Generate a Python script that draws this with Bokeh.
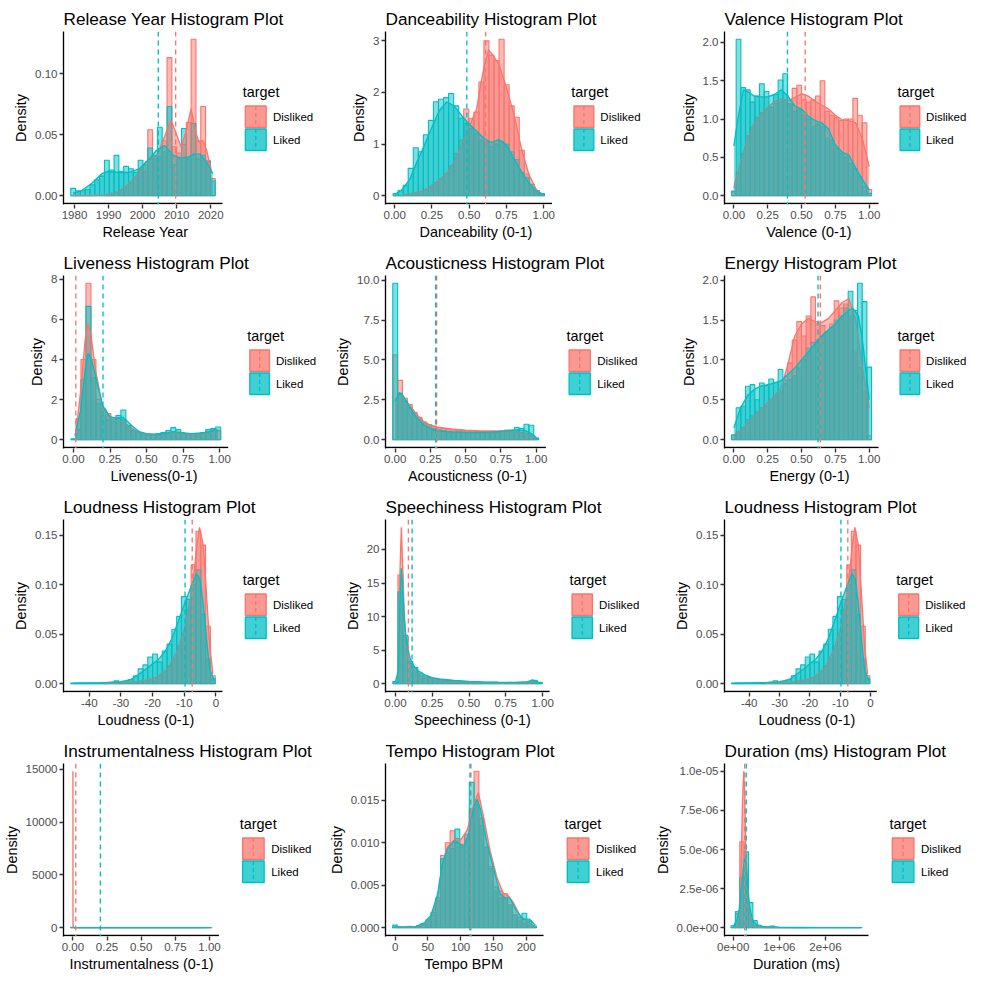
from bokeh.plotting import figure
from bokeh.layouts import gridplot
from bokeh.models import Span, FixedTicker, Range1d, Title
from bokeh.core.properties import value
from bokeh.embed import file_html
from bokeh.resources import INLINE

RED = "#F8766D"
TEAL = "#00BFC4"
FONT = "Liberation Sans"
groups = ["Disliked", "Liked"]

# ---------------- data ----------------
# 1 Release year
release_lo, release_hi = 1979.6, 2020.6
release_hist_disliked = [0, 0, 0, 0, 0, 0, 0, 0.001, 0.002, 0.003, 0.005, 0.007, 0.010, 0.014, 0.022, 0.020, 0.054, 0.030, 0.032, 0.045, 0.113, 0.040, 0.035, 0.042, 0.060, 0.128, 0.045, 0.073, 0.029, 0.014]
release_hist_liked = [0.006, 0.004, 0.004, 0.005, 0.009, 0.013, 0.016, 0.029, 0.021, 0.033, 0.020, 0.024, 0.022, 0.019, 0.029, 0.025, 0.039, 0.033, 0.056, 0.036, 0.073, 0.025, 0.030, 0.055, 0.030, 0.059, 0.030, 0.033, 0.028, 0.012]
release_dx_disliked = [1979.6, 1985, 1988.6, 1992.3, 1996, 1998.7, 2001, 2004.2, 2006, 2008.3, 2009.7, 2011.3, 2012.8, 2014.2, 2015.6, 2016.5, 2017.7, 2018.8, 2020.2]
release_dy_disliked = [0.0, 0.0, 0.0005, 0.002, 0.010, 0.018, 0.028, 0.033, 0.045, 0.062, 0.052, 0.040, 0.053, 0.071, 0.052, 0.044, 0.045, 0.037, 0.020]
release_dx_liked = [1979.6, 1982, 1985, 1988, 1990, 1993, 1996, 1999, 2002, 2004, 2006.5, 2009, 2011, 2013, 2015, 2017, 2019, 2020.6]
release_dy_liked = [0.002, 0.004, 0.010, 0.018, 0.020, 0.019, 0.019, 0.022, 0.030, 0.037, 0.041, 0.033, 0.031, 0.031, 0.034, 0.034, 0.026, 0.018]
release_mean = [2009.7, 2004.6]

# 2 Danceability
dance_lo, dance_hi = 0.006, 0.988
dance_hist_disliked = [0.0, 0.0, 0.02, 0.03, 0.05, 0.08, 0.12, 0.16, 0.25, 0.32, 0.42, 0.58, 0.82, 1.08, 1.68, 1.50, 1.62, 2.20, 3.00, 2.72, 2.62, 3.03, 2.15, 1.74, 1.52, 0.88, 0.42, 0.15, 0.05, 0.02]
dance_hist_liked = [0.04, 0.10, 0.20, 0.53, 0.93, 0.85, 1.18, 1.46, 1.82, 1.87, 1.90, 1.98, 1.74, 1.50, 1.40, 1.30, 1.20, 1.08, 1.05, 0.95, 1.00, 1.05, 1.00, 0.85, 0.70, 0.45, 0.35, 0.22, 0.10, 0.04]
dance_dx_disliked = [0.05, 0.1, 0.2, 0.3, 0.35, 0.4, 0.45, 0.5, 0.55, 0.58, 0.6, 0.63, 0.66, 0.7, 0.75, 0.8, 0.85, 0.9, 0.95, 0.99]
dance_dy_disliked = [0.0, 0.03, 0.1, 0.31, 0.44, 0.66, 0.98, 1.33, 1.68, 2.2, 2.5, 2.82, 2.72, 2.54, 2.09, 1.58, 0.92, 0.41, 0.12, 0.03]
dance_dx_liked = [0.0, 0.05, 0.1, 0.15, 0.2, 0.25, 0.3, 0.35, 0.4, 0.45, 0.5, 0.55, 0.6, 0.65, 0.7, 0.75, 0.8, 0.85, 0.9, 0.95, 0.99]
dance_dy_liked = [0.02, 0.12, 0.31, 0.66, 0.98, 1.33, 1.65, 1.82, 1.73, 1.55, 1.39, 1.25, 1.11, 1.03, 1.09, 0.98, 0.72, 0.47, 0.25, 0.09, 0.03]
dance_mean = [0.61, 0.484]

# 3 Valence
valence_lo, valence_hi = 0.0, 1.0
valence_hist_disliked = [0.05, 0.30, 0.55, 0.78, 0.90, 1.02, 1.08, 1.12, 1.16, 1.20, 1.22, 1.25, 1.20, 1.40, 1.44, 1.25, 1.22, 1.25, 1.30, 1.50, 1.10, 1.05, 1.02, 0.98, 1.00, 1.00, 1.27, 1.05, 0.95, 0.08]
valence_hist_liked = [0.06, 2.04, 1.41, 1.38, 1.22, 1.30, 1.46, 1.36, 1.15, 1.32, 1.51, 1.59, 1.20, 1.10, 1.12, 1.05, 1.00, 0.90, 0.93, 0.90, 0.75, 0.72, 0.62, 0.55, 0.50, 0.42, 0.35, 0.25, 0.12, 0.03]
valence_dx_disliked = [0.0, 0.05, 0.1, 0.15, 0.2, 0.25, 0.3, 0.35, 0.4, 0.45, 0.5, 0.55, 0.6, 0.65, 0.7, 0.75, 0.8, 0.85, 0.9, 0.95, 1.0]
valence_dy_disliked = [0.10, 0.44, 0.74, 0.94, 1.06, 1.15, 1.23, 1.26, 1.24, 1.28, 1.33, 1.30, 1.23, 1.18, 1.13, 1.05, 0.99, 0.98, 0.95, 0.74, 0.38]
valence_dx_liked = [0.0, 0.03, 0.07, 0.1, 0.15, 0.2, 0.25, 0.3, 0.35, 0.4, 0.45, 0.5, 0.55, 0.6, 0.65, 0.7, 0.75, 0.8, 0.85, 0.9, 0.95, 1.0]
valence_dy_liked = [0.65, 1.0, 1.38, 1.36, 1.30, 1.29, 1.29, 1.32, 1.38, 1.30, 1.17, 1.13, 1.04, 0.98, 0.95, 0.87, 0.66, 0.57, 0.53, 0.36, 0.21, 0.08]
valence_mean = [0.527, 0.396]

# 4 Liveness
live_lo, live_hi = 0.0, 0.99
live_hist_disliked = [0.0, 1.05, 4.00, 7.80, 4.00, 2.02, 1.53, 1.30, 1.10, 1.10, 1.00, 0.70, 0.45, 0.35, 0.30, 0.28, 0.25, 0.25, 0.30, 0.35, 0.40, 0.35, 0.30, 0.25, 0.28, 0.30, 0.30, 0.40, 0.50, 0.45]
live_hist_liked = [0.05, 0.50, 3.00, 6.65, 3.10, 1.80, 1.20, 1.00, 1.00, 1.20, 1.48, 0.70, 0.45, 0.35, 0.30, 0.25, 0.25, 0.30, 0.35, 0.45, 0.60, 0.50, 0.30, 0.30, 0.30, 0.30, 0.35, 0.50, 0.55, 0.63]
live_dx_disliked = [0.02, 0.05, 0.08, 0.1, 0.12, 0.15, 0.2, 0.25, 0.3, 0.35, 0.4, 0.45, 0.5, 0.6, 0.7, 0.8, 0.9, 0.99]
live_dy_disliked = [0.5, 2.5, 5.0, 5.8, 5.2, 3.5, 1.6, 1.05, 0.95, 0.85, 0.55, 0.35, 0.28, 0.25, 0.32, 0.25, 0.30, 0.45]
live_dx_liked = [0.01, 0.05, 0.08, 0.1, 0.12, 0.15, 0.2, 0.25, 0.3, 0.34, 0.4, 0.45, 0.5, 0.6, 0.68, 0.75, 0.8, 0.9, 0.99]
live_dy_liked = [0.2, 1.5, 3.5, 4.3, 4.1, 3.2, 1.7, 1.15, 1.05, 1.12, 0.70, 0.40, 0.30, 0.25, 0.40, 0.35, 0.30, 0.35, 0.50]
live_mean = [0.016, 0.202]

# 5 Acousticness
acou_lo, acou_hi = 0.0, 1.0
acou_hist_disliked = [5.32, 3.72, 2.60, 2.20, 1.70, 1.40, 1.10, 0.95, 0.85, 0.75, 0.70, 0.65, 0.62, 0.60, 0.58, 0.55, 0.55, 0.52, 0.50, 0.50, 0.52, 0.50, 0.55, 0.60, 0.55, 0.50, 0.45, 0.40, 0.30, 0.10]
acou_hist_liked = [9.80, 2.90, 2.40, 2.00, 1.60, 1.30, 1.00, 0.85, 0.70, 0.60, 0.55, 0.50, 0.50, 0.50, 0.48, 0.45, 0.45, 0.45, 0.45, 0.45, 0.48, 0.50, 0.50, 0.55, 0.60, 0.76, 0.70, 0.97, 0.90, 0.10]
acou_dx_disliked = [0.0, 0.03, 0.06, 0.1, 0.15, 0.2, 0.25, 0.3, 0.4, 0.5, 0.6, 0.7, 0.8, 0.9, 0.95, 1.0]
acou_dy_disliked = [2.5, 2.85, 2.6, 2.2, 1.6, 1.15, 0.9, 0.78, 0.68, 0.60, 0.55, 0.55, 0.55, 0.42, 0.30, 0.15]
acou_dx_liked = [0.0, 0.03, 0.06, 0.1, 0.15, 0.2, 0.25, 0.3, 0.4, 0.5, 0.6, 0.7, 0.8, 0.87, 0.93, 0.97, 1.0]
acou_dy_liked = [2.4, 2.95, 2.7, 2.1, 1.4, 0.95, 0.68, 0.55, 0.48, 0.45, 0.45, 0.48, 0.55, 0.62, 0.55, 0.35, 0.15]
acou_mean = [0.294, 0.287]

# 6 Energy
energy_lo, energy_hi = 0.0, 1.0
energy_hist_disliked = [0.05, 0.10, 0.15, 0.25, 0.30, 0.35, 0.40, 0.42, 0.50, 0.55, 0.60, 0.75, 0.96, 1.25, 1.48, 1.30, 1.55, 1.79, 1.45, 1.43, 1.35, 1.45, 1.74, 1.65, 1.70, 1.55, 1.10, 0.90, 0.60, 0.05]
energy_hist_liked = [0.06, 0.40, 0.42, 0.67, 0.69, 0.50, 0.71, 0.68, 0.76, 0.72, 0.88, 0.70, 0.75, 0.80, 0.90, 1.00, 1.15, 1.22, 1.25, 1.30, 1.35, 1.40, 1.50, 1.55, 1.65, 1.86, 1.62, 1.96, 1.73, 0.91]
energy_dx_disliked = [0.0, 0.1, 0.2, 0.3, 0.35, 0.4, 0.45, 0.5, 0.55, 0.6, 0.65, 0.7, 0.75, 0.8, 0.85, 0.9, 0.95, 1.0]
energy_dy_disliked = [0.05, 0.20, 0.38, 0.55, 0.65, 0.95, 1.30, 1.45, 1.52, 1.48, 1.47, 1.52, 1.62, 1.72, 1.77, 1.50, 0.90, 0.40]
energy_dx_liked = [0.0, 0.05, 0.1, 0.15, 0.2, 0.25, 0.3, 0.35, 0.4, 0.45, 0.5, 0.55, 0.6, 0.65, 0.7, 0.75, 0.8, 0.85, 0.88, 0.92, 0.95, 0.98, 1.0]
energy_dy_liked = [0.15, 0.40, 0.55, 0.63, 0.67, 0.69, 0.71, 0.74, 0.82, 0.90, 1.00, 1.10, 1.20, 1.30, 1.38, 1.45, 1.55, 1.62, 1.65, 1.55, 1.25, 0.80, 0.50]
energy_mean = [0.639, 0.622]

# 7/9 Loudness
loud_lo, loud_hi = -45.1, -1.0
loud_hist_disliked = [0, 0, 0, 0, 0, 0, 0, 0, 0, 0.0005, 0.0005, 0.0008, 0.001, 0.0015, 0.002, 0.003, 0.004, 0.006, 0.008, 0.012, 0.018, 0.025, 0.038, 0.050, 0.075, 0.120, 0.154, 0.140, 0.058, 0.008]
loud_hist_liked = [0.0006, 0.0006, 0.0006, 0.0006, 0.0006, 0.0006, 0.001, 0.001, 0.0015, 0.003, 0.0015, 0.002, 0.004, 0.008, 0.015, 0.019, 0.027, 0.030, 0.022, 0.033, 0.040, 0.055, 0.068, 0.088, 0.085, 0.100, 0.115, 0.070, 0.025, 0.005]
loud_dx_disliked = [-35, -30, -25, -20, -18, -15, -12, -10, -8, -7, -6, -5.2, -4, -3, -2, -1]
loud_dy_disliked = [0.0, 0.001, 0.002, 0.005, 0.008, 0.016, 0.035, 0.055, 0.088, 0.110, 0.140, 0.158, 0.140, 0.090, 0.040, 0.010]
loud_dx_liked = [-45.1, -35, -30, -27, -25, -22, -20, -18, -16, -14, -12, -10, -8, -6.1, -5, -4, -3, -2, -0.5]
loud_dy_liked = [0.0005, 0.001, 0.002, 0.004, 0.008, 0.015, 0.020, 0.025, 0.033, 0.045, 0.062, 0.080, 0.097, 0.111, 0.105, 0.080, 0.045, 0.015, 0.003]
loud_mean = [-7.5, -9.76]

# 8 Speechiness
speech_lo, speech_hi = 0.0, 0.98
speech_hist_disliked = [0.3, 16.2, 6.5, 3.0, 1.8, 1.2, 0.9, 0.7, 0.5, 0.4, 0.35, 0.3, 0.25, 0.2, 0.2, 0.15, 0.15, 0.12, 0.1, 0.1, 0.1, 0.08, 0.08, 0.08, 0.08, 0.1, 0.1, 0.15, 0.3, 0.1]
speech_hist_liked = [0.3, 13.7, 7.2, 3.3, 2.4, 1.6, 1.2, 0.9, 0.7, 0.6, 0.5, 0.45, 0.4, 0.35, 0.3, 0.25, 0.25, 0.22, 0.2, 0.2, 0.2, 0.18, 0.15, 0.15, 0.15, 0.15, 0.15, 0.3, 0.5, 0.2]
speech_dx_disliked = [0.02, 0.025, 0.03, 0.04, 0.05, 0.06, 0.07, 0.08, 0.1, 0.12, 0.15, 0.2, 0.25, 0.3, 0.4, 0.5, 0.6, 0.7, 0.8, 0.9, 0.93, 0.96]
speech_dy_disliked = [1.0, 8.0, 16.0, 23.3, 17.0, 10.0, 6.5, 4.5, 3.0, 2.2, 1.5, 0.9, 0.6, 0.45, 0.3, 0.2, 0.15, 0.12, 0.12, 0.2, 0.3, 0.1]
speech_dx_liked = [0.0, 0.02, 0.025, 0.03, 0.04, 0.05, 0.06, 0.07, 0.08, 0.1, 0.12, 0.15, 0.2, 0.25, 0.3, 0.4, 0.5, 0.6, 0.7, 0.8, 0.9, 0.93, 0.97]
speech_dy_liked = [0.3, 2.0, 7.0, 12.0, 17.2, 14.0, 10.0, 7.3, 5.5, 3.8, 2.8, 2.0, 1.3, 0.9, 0.7, 0.5, 0.35, 0.25, 0.22, 0.2, 0.3, 0.55, 0.2]
speech_mean = [0.088, 0.113]

# 10 Instrumentalness
instr_lo, instr_hi = 0.0, 1.0
instr_hist_disliked = [27.0, 0.4, 0.2, 0.15, 0.1, 0.1, 0.08, 0.06, 0.05, 0.05, 0.04, 0.04, 0.03, 0.03, 0.03, 0.02, 0.02, 0.02, 0.02, 0.02, 0.02, 0.02, 0.02, 0.02, 0.02, 0.02, 0.01, 0.01, 0.01, 0.01]
instr_hist_liked = [20.0, 1.5, 0.8, 0.5, 0.4, 0.35, 0.3, 0.3, 0.25, 0.25, 0.25, 0.2, 0.2, 0.2, 0.2, 0.2, 0.2, 0.2, 0.2, 0.25, 0.25, 0.3, 0.3, 0.35, 0.4, 0.5, 0.6, 0.8, 0.9, 0.5]
instr_dx_disliked = [0.0, 0.0002, 0.0005, 0.001, 0.003, 0.01, 0.05, 0.2, 0.5, 0.8, 0.95]
instr_dy_disliked = [14800, 9000, 2000, 300, 40, 8, 1.5, 0.3, 0.1, 0.05, 0.02]
instr_dx_liked = [0.0, 0.001, 0.01, 0.05, 0.1, 0.3, 0.5, 0.7, 0.85, 0.95, 1.0]
instr_dy_liked = [60, 30, 8, 2, 1, 0.3, 0.2, 0.3, 0.6, 0.8, 0.5]
instr_mean = [0.021, 0.201]

# 11 Tempo
tempo_lo, tempo_hi = 0.0, 211.7
tempo_hist_disliked = [0.0001, 0.0, 0.0, 0.00015, 0.0001, 0.0002, 0.0004, 0.0008, 0.0015, 0.0032, 0.0085, 0.0100, 0.0114, 0.0105, 0.0098, 0.0105, 0.0140, 0.0184, 0.0129, 0.0095, 0.0072, 0.0043, 0.0043, 0.0040, 0.0025, 0.0015, 0.0008, 0.0005, 0.0003, 0.0001]
tempo_hist_liked = [0.0003, 0.00005, 0.00005, 0.00005, 0.0001, 0.0002, 0.0005, 0.001, 0.0018, 0.0035, 0.0081, 0.0088, 0.0093, 0.0116, 0.0095, 0.0110, 0.0171, 0.0145, 0.0120, 0.0095, 0.0070, 0.0048, 0.0035, 0.0035, 0.0027, 0.0015, 0.0012, 0.0017, 0.0008, 0.0002]
tempo_dx_disliked = [0, 30, 45, 55, 65, 72, 80, 90, 100, 110, 120, 127, 135, 145, 155, 165, 172, 180, 190, 200, 212]
tempo_dy_disliked = [0.0001, 0.0001, 0.0004, 0.0012, 0.0035, 0.0075, 0.0095, 0.0103, 0.0103, 0.0115, 0.0145, 0.0159, 0.0130, 0.0090, 0.0060, 0.0040, 0.0038, 0.0030, 0.0015, 0.0008, 0.0002]
tempo_dx_liked = [0, 30, 45, 55, 65, 72, 80, 90, 97, 105, 112, 120, 125, 130, 140, 150, 160, 168, 175, 185, 195, 205, 214]
tempo_dy_liked = [0.0001, 0.0001, 0.0006, 0.0015, 0.004, 0.0075, 0.0093, 0.0102, 0.0100, 0.0095, 0.0110, 0.0142, 0.0151, 0.0140, 0.0100, 0.0070, 0.0040, 0.0035, 0.0035, 0.0020, 0.0010, 0.0010, 0.0003]
tempo_mean = [115.7, 114.2]

# 12 Duration
dur_lo, dur_hi = 0.0, 2745000.0
dur_hist_disliked = [2.0e-08, 9.0e-07, 5.5e-06, 3.5e-06, 5.0e-07, 1.0e-07, 5.0e-08, 2.0e-08, 1.0e-08, 1.0e-08, 5.0e-09, 5.0e-09, 3.0e-09, 0, 0, 0, 0, 0, 0, 0, 0, 0, 0, 0, 0, 0, 0, 0, 0, 0]
dur_hist_liked = [1.2e-07, 1.03e-06, 3.2e-06, 4.85e-06, 1.6e-06, 4.5e-07, 1.5e-07, 6.0e-08, 5.0e-08, 1.0e-07, 2.0e-08, 1.5e-08, 1.0e-08, 1.0e-08, 5.0e-09, 5.0e-09, 5.0e-09, 3.0e-09, 3.0e-09, 3.0e-09, 2.0e-09, 2.0e-09, 2.0e-09, 2.0e-09, 2.0e-09, 2.0e-09, 2.0e-09, 2.0e-09, 2.0e-09, 4.0e-09]
dur_dx_disliked = [30e3, 100e3, 150e3, 180e3, 200e3, 228e3, 250e3, 270e3, 300e3, 330e3, 370e3, 420e3, 500e3, 700e3, 1000e3, 1600e3]
dur_dy_disliked = [0.0, 1.0e-07, 1.5e-06, 5.0e-06, 8.0e-06, 1.0e-05, 8.5e-06, 5.5e-06, 3.0e-06, 1.5e-06, 6.0e-07, 2.0e-07, 5.0e-08, 1.0e-08, 5.0e-09, 1.0e-09]
dur_dx_liked = [0, 80e3, 130e3, 180e3, 220e3, 250e3, 280e3, 310e3, 350e3, 400e3, 450e3, 500e3, 600e3, 700e3, 850e3, 1000e3, 1500e3, 2000e3, 2745e3]
dur_dy_liked = [5.0e-08, 5.0e-07, 1.2e-06, 2.5e-06, 3.8e-06, 4.5e-06, 4.0e-06, 2.8e-06, 1.5e-06, 7.0e-07, 3.5e-07, 2.0e-07, 1.0e-07, 5.0e-08, 8.0e-08, 2.0e-08, 1.0e-08, 5.0e-09, 2.0e-09]
dur_mean = [248000, 283000]

# ticks
unit_ticks = [0, 0.25, 0.5, 0.75, 1.0]
unit_labels = ["0.00", "0.25", "0.50", "0.75", "1.00"]
year_ticks = [1980, 1990, 2000, 2010, 2020]
year_labels = ["1980", "1990", "2000", "2010", "2020"]
loud_ticks = [-40, -30, -20, -10, 0]
loud_labels = ["-40", "-30", "-20", "-10", "0"]
tempo_ticks = [0, 50, 100, 150, 200]
tempo_labels = ["0", "50", "100", "150", "200"]
dur_ticks = [0, 1e6, 2e6]
dur_labels = ["0e+00", "1e+06", "2e+06"]

# ---------------- layout (pixels within one 325 x 244 panel) ----------------
PW, PH = 325, 244
FR = 218      # right end of the data panel
FT = 31       # frame top
FB = 203      # bottom of the data panel (x axis line)
LW = 1.35
XLAB_PX = 14.4

# approximate advance widths of Liberation Sans (per 1000 em), for centring
_W = {" ": 278, "(": 333, ")": 333, "-": 333, "0": 556, "1": 556,
      "A": 667, "B": 667, "D": 722, "E": 667, "I": 278, "L": 556, "M": 833,
      "P": 667, "R": 722, "S": 667, "T": 611, "V": 667, "Y": 667,
      "a": 556, "b": 556, "c": 500, "d": 556, "e": 556, "g": 556, "h": 556,
      "i": 222, "k": 500, "l": 222, "m": 833, "n": 556, "o": 556, "p": 556,
      "r": 333, "s": 500, "t": 278, "u": 556, "v": 500, "y": 500}


def text_width(s, size):
    return sum(_W.get(ch, 556) for ch in s) / 1000.0 * size


def panel(title, xlabel, lo, hi, hd, hl, dxd, dyd, dxl, dyl, means,
          xt, xl, yt, yl, left):
    n = len(hd)
    w = (hi - lo) / (n - 1)
    centers = [lo + i * w for i in range(n)]
    lefts = [c - w / 2 for c in centers]
    rights = [c + w / 2 for c in centers]
    x0 = min(lefts[0], min(dxd), min(dxl), min(means))
    x1 = max(rights[-1], max(dxd), max(dxl), max(means))
    pad = 0.05 * (x1 - x0)
    xs, xe = x0 - pad, x1 + pad
    ymax = max(max(hd), max(hl), max(dyd), max(dyl))
    ys, ye = -0.05 * ymax, 1.05 * ymax

    # pixel -> data helpers (the frame extends right over the legend area)
    def px(xp):
        return xs + (xp - left) / (FR - left) * (xe - xs)

    def py(yp):
        return ye - (yp - FT) / (FB - FT) * (ye - ys)

    p = figure(width=PW, height=PH, title=title,
               x_range=Range1d(xs, px(PW)),
               y_range=Range1d(py(FB + 1), ye),
               output_backend="svg", toolbar_location=None,
               min_border_left=left, min_border_right=0,
               min_border_top=FT, min_border_bottom=PH - FB - 1)
    p.outline_line_color = None
    p.xgrid.visible = False
    p.ygrid.visible = False
    p.title.text_font = FONT
    p.title.text_font_size = "17.2px"
    p.title.text_font_style = "normal"
    p.title.text_color = "black"
    p.title.standoff = 6

    for ax, ticks, labels in ((p.xaxis[0], xt, xl), (p.yaxis[0], yt, yl)):
        ax.ticker = FixedTicker(ticks=ticks, minor_ticks=[])
        ax.major_label_overrides = dict(zip(ticks, labels))
        ax.axis_line_color = "black"
        ax.axis_line_width = LW
        ax.major_tick_line_color = "#333333"
        ax.major_tick_line_width = LW
        ax.major_tick_out = 4
        ax.major_tick_in = 0
        ax.minor_tick_out = 0
        ax.minor_tick_in = 0
        ax.major_label_text_font = FONT
        ax.major_label_text_font_size = "11.5px"
        ax.major_label_text_color = "#4D4D4D"
        ax.major_label_standoff = 2
        ax.axis_label_text_font = FONT
        ax.axis_label_text_font_size = "14.4px"
        ax.axis_label_text_font_style = "normal"
        ax.axis_label_text_color = "black"
    p.xaxis.axis_line_color = None
    p.yaxis.axis_label = "Density"
    p.yaxis.axis_label_standoff = 3

    # x axis title, centred under the data panel only
    off = (FR - left) / 2 - text_width(xlabel, XLAB_PX) / 2
    xt_title = Title(text=xlabel, align="left", offset=off,
                     text_font=FONT, text_font_size=f"{XLAB_PX}px",
                     text_font_style="normal", text_color="black", standoff=0)
    p.add_layout(xt_title, "below")

    # x axis line only under the data panel
    p.segment(x0=[xs], x1=[xe], y0=[ys], y1=[ys], line_color="black", line_width=LW)

    for h, c in ((hd, RED), (hl, TEAL)):
        p.quad(left=lefts, right=rights, top=h, bottom=0,
               fill_color=c, fill_alpha=0.5, line_color=c,
               line_alpha=1.0, line_width=1.1)
    for dx, dy, c in ((dxd, dyd, RED), (dxl, dyl, TEAL)):
        p.varea(x=dx, y1=[0] * len(dx), y2=dy, fill_color=c, fill_alpha=0.5)
        p.line(dx, dy, line_color=c, line_width=LW)
    for m, c in zip(means, (RED, TEAL)):
        p.add_layout(Span(location=m, dimension="height", line_color=c,
                          line_dash="5 4", line_width=LW))

    # legend drawn in the right part of the frame
    p.text(x=[px(239)], y=[py(91.5)], text=["target"], text_font=value(FONT),
           text_font_size="14.4px", text_color="black",
           text_baseline="middle", text_align="left")
    key_top = [py(105.5), py(128.5)]
    key_bot = [py(127.0), py(150.0)]
    colors = [RED, TEAL]
    p.quad(left=[px(241.8)] * 2, right=[px(263.4)] * 2, top=key_top, bottom=key_bot,
           fill_color=colors, fill_alpha=0.75, line_color=colors, line_width=LW)
    p.segment(x0=[px(252.6)] * 2, x1=[px(252.6)] * 2, y0=key_top, y1=key_bot,
              line_color=colors, line_width=LW, line_dash="4 3")
    p.text(x=[px(270.5)] * 2, y=[py(116.25), py(139.25)], text=groups,
           text_font=value(FONT), text_font_size="11.5px", text_color="black",
           text_baseline="middle", text_align="left")
    return p


p1 = panel("Release Year Histogram Plot", "Release Year", release_lo, release_hi,
           release_hist_disliked, release_hist_liked, release_dx_disliked, release_dy_disliked,
           release_dx_liked, release_dy_liked, release_mean,
           year_ticks, year_labels, [0, 0.05, 0.10], ["0.00", "0.05", "0.10"], 53)
p2 = panel("Danceability Histogram Plot", "Danceability (0-1)", dance_lo, dance_hi,
           dance_hist_disliked, dance_hist_liked, dance_dx_disliked, dance_dy_disliked,
           dance_dx_liked, dance_dy_liked, dance_mean,
           unit_ticks, unit_labels, [0, 1, 2, 3], ["0", "1", "2", "3"], 37)
p3 = panel("Valence Histogram Plot", "Valence (0-1)", valence_lo, valence_hi,
           valence_hist_disliked, valence_hist_liked, valence_dx_disliked, valence_dy_disliked,
           valence_dx_liked, valence_dy_liked, valence_mean,
           unit_ticks, unit_labels, [0, 0.5, 1.0, 1.5, 2.0], ["0.0", "0.5", "1.0", "1.5", "2.0"], 48)
p4 = panel("Liveness Histogram Plot", "Liveness(0-1)", live_lo, live_hi,
           live_hist_disliked, live_hist_liked, live_dx_disliked, live_dy_disliked,
           live_dx_liked, live_dy_liked, live_mean,
           unit_ticks, unit_labels, [0, 2, 4, 6, 8], ["0", "2", "4", "6", "8"], 37)
p5 = panel("Acousticness Histogram Plot", "Acousticness (0-1)", acou_lo, acou_hi,
           acou_hist_disliked, acou_hist_liked, acou_dx_disliked, acou_dy_disliked,
           acou_dx_liked, acou_dy_liked, acou_mean,
           unit_ticks, unit_labels, [0, 2.5, 5.0, 7.5, 10.0], ["0.0", "2.5", "5.0", "7.5", "10.0"], 54)
p6 = panel("Energy Histogram Plot", "Energy (0-1)", energy_lo, energy_hi,
           energy_hist_disliked, energy_hist_liked, energy_dx_disliked, energy_dy_disliked,
           energy_dx_liked, energy_dy_liked, energy_mean,
           unit_ticks, unit_labels, [0, 0.5, 1.0, 1.5, 2.0], ["0.0", "0.5", "1.0", "1.5", "2.0"], 48)
p7 = panel("Loudness Histogram Plot", "Loudness (0-1)", loud_lo, loud_hi,
           loud_hist_disliked, loud_hist_liked, loud_dx_disliked, loud_dy_disliked,
           loud_dx_liked, loud_dy_liked, loud_mean,
           loud_ticks, loud_labels, [0, 0.05, 0.10, 0.15], ["0.00", "0.05", "0.10", "0.15"], 53)
p8 = panel("Speechiness Histogram Plot", "Speechiness (0-1)", speech_lo, speech_hi,
           speech_hist_disliked, speech_hist_liked, speech_dx_disliked, speech_dy_disliked,
           speech_dx_liked, speech_dy_liked, speech_mean,
           unit_ticks, unit_labels, [0, 5, 10, 15, 20], ["0", "5", "10", "15", "20"], 44)
p9 = panel("Loudness Histogram Plot", "Loudness (0-1)", loud_lo, loud_hi,
           loud_hist_disliked, loud_hist_liked, loud_dx_disliked, loud_dy_disliked,
           loud_dx_liked, loud_dy_liked, loud_mean,
           loud_ticks, loud_labels, [0, 0.05, 0.10, 0.15], ["0.00", "0.05", "0.10", "0.15"], 53)
p10 = panel("Instrumentalness Histogram Plot", "Instrumentalness (0-1)", instr_lo, instr_hi,
            instr_hist_disliked, instr_hist_liked, instr_dx_disliked, instr_dy_disliked,
            instr_dx_liked, instr_dy_liked, instr_mean,
            unit_ticks, unit_labels, [0, 5000, 10000, 15000], ["0", "5000", "10000", "15000"], 62)
p11 = panel("Tempo Histogram Plot", "Tempo BPM", tempo_lo, tempo_hi,
            tempo_hist_disliked, tempo_hist_liked, tempo_dx_disliked, tempo_dy_disliked,
            tempo_dx_liked, tempo_dy_liked, tempo_mean,
            tempo_ticks, tempo_labels, [0, 0.005, 0.010, 0.015], ["0.000", "0.005", "0.010", "0.015"], 60)
p12 = panel("Duration (ms) Histogram Plot", "Duration (ms)", dur_lo, dur_hi,
            dur_hist_disliked, dur_hist_liked, dur_dx_disliked, dur_dy_disliked,
            dur_dx_liked, dur_dy_liked, dur_mean,
            dur_ticks, dur_labels, [0, 2.5e-06, 5.0e-06, 7.5e-06, 1.0e-05],
            ["0.0e+00", "2.5e-06", "5.0e-06", "7.5e-06", "1.0e-05"], 74)

grid = gridplot([[p1, p2, p3], [p4, p5, p6], [p7, p8, p9], [p10, p11, p12]],
                toolbar_location=None)

open("out.html", "w").write(file_html(grid, INLINE))
